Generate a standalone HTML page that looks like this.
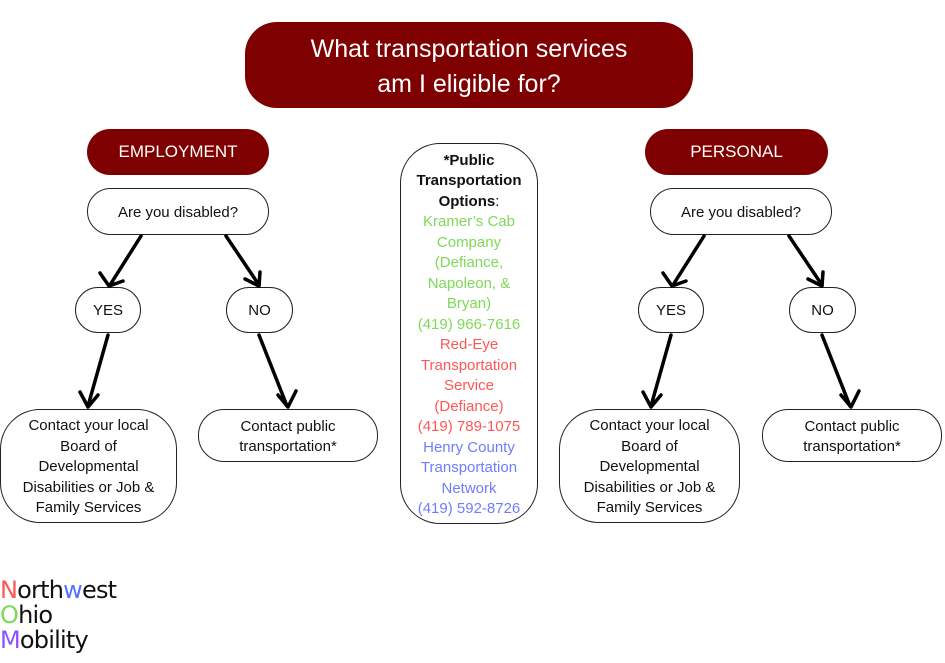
<!DOCTYPE html>
<html><head><meta charset="utf-8"><style>
body{margin:0;width:945px;height:663px;background:#fff;position:relative;overflow:hidden;font-family:"Liberation Sans",sans-serif;}
.b{position:absolute;box-sizing:border-box;display:flex;align-items:center;justify-content:center;text-align:center;}
.red{background:#7f0000;color:#fff;}
.w{border:1.3px solid #222;background:#fff;color:#111;font-size:15px;line-height:20.5px;padding-top:3px;}
.g{color:#7ed957}.r{color:#ff5757}.bl{color:#6e7dff}
</style></head><body>
<div class="b red" style="left:245px;top:22px;width:448px;height:86px;border-radius:32px;font-size:25px;line-height:35px;padding-top:3px;">What transportation services<br>am I eligible for?</div>
<div class="b red" style="left:87px;top:129px;width:182px;height:46px;border-radius:23px;font-size:17px;">EMPLOYMENT</div>
<div class="b red" style="left:645px;top:129px;width:183px;height:46px;border-radius:23px;font-size:17px;">PERSONAL</div>
<div class="b w" style="left:87px;top:188px;width:182px;height:47px;border-radius:24px;">Are you disabled?</div>
<div class="b w" style="left:650px;top:188px;width:182px;height:47px;border-radius:24px;">Are you disabled?</div>
<div class="b w" style="left:75px;top:287px;width:66px;height:46px;border-radius:23px;">YES</div>
<div class="b w" style="left:226px;top:287px;width:67px;height:46px;border-radius:23px;">NO</div>
<div class="b w" style="left:638px;top:287px;width:66px;height:46px;border-radius:23px;">YES</div>
<div class="b w" style="left:789px;top:287px;width:67px;height:46px;border-radius:23px;">NO</div>
<div class="b w" style="left:0px;top:409px;width:177px;height:114px;border-radius:40px;">Contact your local<br>Board of<br>Developmental<br>Disabilities or Job &amp;<br>Family Services</div>
<div class="b w" style="left:198px;top:409px;width:180px;height:53px;border-radius:26px;">Contact public<br>transportation*</div>
<div class="b w" style="left:559px;top:409px;width:181px;height:114px;border-radius:40px;">Contact your local<br>Board of<br>Developmental<br>Disabilities or Job &amp;<br>Family Services</div>
<div class="b w" style="left:762px;top:409px;width:180px;height:53px;border-radius:26px;">Contact public<br>transportation*</div>
<div class="b w" style="left:400px;top:143px;width:138px;height:381px;border-radius:40px;border-width:1.5px;">
<div><b>*Public<br>Transportation<br>Options</b>:<br><span class="g">Kramer’s Cab<br>Company<br>(Defiance,<br>Napoleon, &amp;<br>Bryan)<br>(419) 966-7616</span><br><span class="r">Red-Eye<br>Transportation<br>Service<br>(Defiance)<br>(419) 789-1075</span><br><span class="bl">Henry County<br>Transportation<br>Network<br>(419) 592-8726</span></div></div>
<svg width="945" height="663" style="position:absolute;left:0;top:0" fill="none" stroke="#000" stroke-width="3.5" stroke-linecap="round" stroke-linejoin="round">
<g id="arr">
<path d="M141,236 L110,285"/><path d="M100,273 L109,286 L123,281"/>
<path d="M226,236 L259,285"/><path d="M245,279 L259,286 L260,272"/>
<path d="M108,335 L88,406"/><path d="M80,392 L88,407 L98,395"/>
<path d="M259,335 L287,406"/><path d="M278,395 L288,407 L296,391"/>
</g>
<use href="#arr" transform="translate(563,0)"/>
</svg>
<div style="position:absolute;left:0;top:578px;font-size:24px;line-height:25px;color:#111;font-family:'DejaVu Sans',sans-serif;letter-spacing:-0.8px;font-weight:500;">
<div><span style="color:#ff5757">N</span>orth<span style="color:#5271ff">w</span>est</div>
<div><span style="color:#7ed957">O</span>hio</div>
<div><span style="color:#8c52ff">M</span>obility</div>
</div>
</body></html>
